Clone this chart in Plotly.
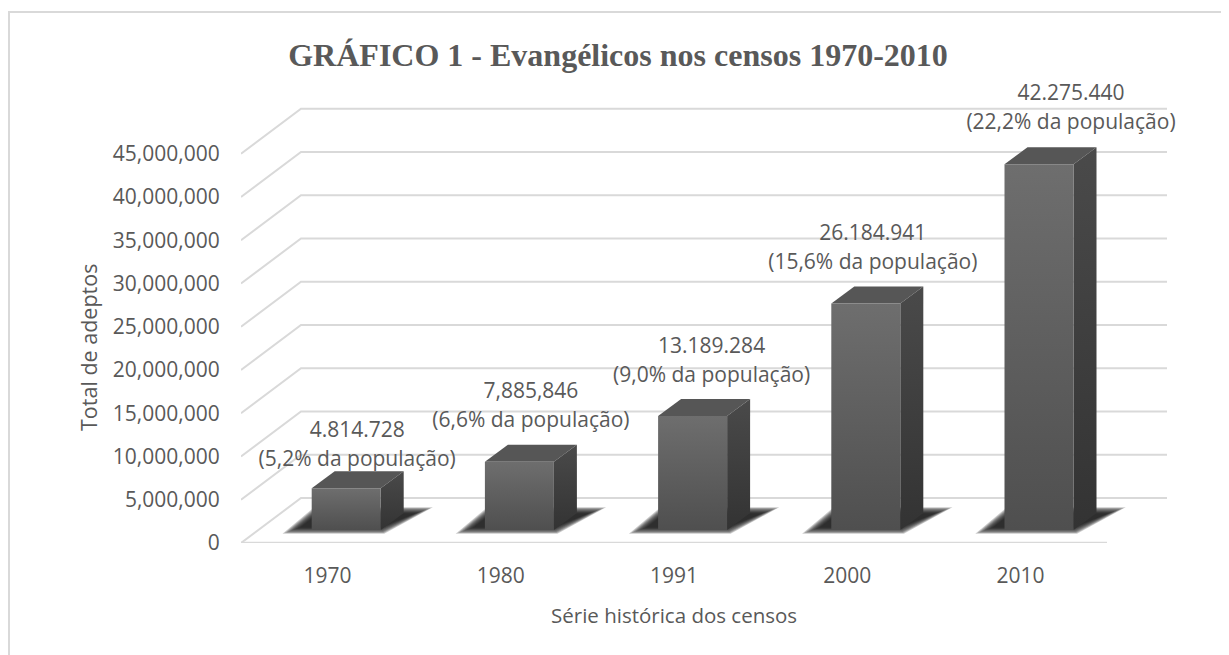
import plotly.graph_objects as go

categories = ["1970", "1980", "1991", "2000", "2010"]
values = [4814728, 7885846, 13189284, 26184941, 42275440]
count_labels = ["4.814.728", "7,885,846", "13.189.284", "26.184.941", "42.275.440"]
share_labels = ["(5,2% da população)", "(6,6% da população)", "(9,0% da população)",
                "(15,6% da população)", "(22,2% da população)"]
y_ticks = [0, 5000000, 10000000, 15000000, 20000000, 25000000, 30000000, 35000000, 40000000, 45000000]

# pixel geometry of the oblique projection (page pixels; the page body has an 8 px margin)
OFF = 8
CAT_PX = 173.2
VAL_PX = 8.65 / 1e6
PLOT_L, PLOT_R, PLOT_T, PLOT_B = 241, 1172, 85, 543
W, H = 1229 - OFF, 655 - OFF
x_min = -0.5
x_max = x_min + (PLOT_R - PLOT_L) / CAT_PX
y_max = (PLOT_B - PLOT_T) / VAL_PX
px = 1 / CAT_PX
py = 1 / VAL_PX

# label nudges, in pixels
label_dx = [11, 11.5, 19, 7, 32]
label_dy = [42, 55, 54, 54, 55]

GRID = "#d9d9d9"
TEXT = "#595959"
FONT = "Open Sans"

fig = go.Figure()


def poly(xs, ys, fillcolor=None, fillgradient=None):
    kw = dict(fillgradient=fillgradient) if fillgradient else dict(fillcolor=fillcolor)
    fig.add_trace(go.Scatter(x=xs + xs[:1], y=ys + ys[:1], mode="lines", fill="toself",
                             line=dict(width=0), hoverinfo="skip", showlegend=False, **kw))


# gridlines: front wall edge, slanted side wall, back wall
for t in y_ticks:
    fig.add_trace(go.Scatter(
        x=[x_min, x_min + 60 * px, x_min + (1167 - PLOT_L) * px],
        y=[t, t + 45 * py, t + 45 * py],
        mode="lines", line=dict(color=GRID, width=2), hoverinfo="skip", showlegend=False))
fig.add_trace(go.Scatter(x=[x_min, x_min + (1107 - PLOT_L) * px], y=[0, 0], mode="lines",
                         line=dict(color=GRID, width=2.5), hoverinfo="skip", showlegend=False))

bar_w = 69 * px
shift = 18.6 * px
base = 13 * py
dep_x = 23 * px
dep_y = 17 * py

# floor shadows: stacked translucent shapes give the soft edge
for i in range(len(values)):
    L = i + shift - bar_w / 2
    R = L + bar_w
    for inset in [-1, 0, 1, 2, 3, 4, 5, 6, 7]:
        xs = [L + (-27 + 2.2 * inset) * px, R + (3 - 0.5 * inset) * px,
              R + (50 - 2.2 * inset) * px, L + (3 + 0.5 * inset) * px]
        ys = [(10 + 0.8 * inset) * py, (10 + 0.8 * inset) * py,
              (35 - 0.8 * inset) * py, (35 - 0.8 * inset) * py]
        poly(xs, ys, fillcolor="rgba(25,25,25,0.22)")

# bars
for i, v in enumerate(values):
    L = i + shift - bar_w / 2
    R = L + bar_w
    top = base + v
    poly([L, R, R + dep_x, L + dep_x], [top, top, top + dep_y, top + dep_y], fillcolor="#565656")
    poly([R, R + dep_x, R + dep_x, R], [base, base + dep_y, top + dep_y, top],
         fillgradient=dict(type="vertical", colorscale=[[0, "#333333"], [1, "#4a4a4a"]]))
    poly([L, R, R, L], [base, base, top, top],
         fillgradient=dict(type="vertical", colorscale=[[0, "#4f4f4f"], [1, "#6e6e6e"]]))

# data labels (two separate lines, the original line gap is wider than one line height)
lx = [i + shift + d * px for i, d in enumerate(label_dx)]
fig.add_trace(go.Scatter(x=lx, y=[base + v + (d + 14.5) * py for v, d in zip(values, label_dy)],
                         mode="text", text=count_labels, textposition="middle center",
                         textfont=dict(family=FONT, size=21, color=TEXT),
                         hoverinfo="skip", showlegend=False, cliponaxis=False))
fig.add_trace(go.Scatter(x=lx, y=[base + v + (d - 14.5) * py for v, d in zip(values, label_dy)],
                         mode="text", text=share_labels, textposition="middle center",
                         textfont=dict(family=FONT, size=21, color=TEXT),
                         hoverinfo="skip", showlegend=False, cliponaxis=False))


def fx(p):
    return (p - PLOT_L) / (PLOT_R - PLOT_L)


def fy(p):
    return (PLOT_B - p) / (PLOT_B - PLOT_T)


border = dict(type="line", xref="paper", yref="paper", line=dict(color=GRID, width=2))

fig.update_layout(
    width=W, height=H, autosize=False,
    margin=dict(l=PLOT_L - OFF, r=W + OFF - PLOT_R, t=PLOT_T - OFF, b=H + OFF - PLOT_B),
    plot_bgcolor="white", paper_bgcolor="white",
    font=dict(family=FONT, color=TEXT, size=20),
    title=dict(text="<b>GRÁFICO 1 - Evangélicos nos censos 1970-2010</b>",
               font=dict(family="Liberation Serif", size=32, color=TEXT),
               x=(618 - OFF) / W, xanchor="center", y=1 - (55 - OFF) / H, yanchor="middle"),
    xaxis=dict(range=[x_min, x_max], tickmode="array", tickvals=list(range(5)), ticktext=categories,
               showgrid=False, zeroline=False, showline=False, ticks="outside", ticklen=14,
               tickcolor="rgba(0,0,0,0)", tickfont=dict(family=FONT, size=21, color=TEXT)),
    yaxis=dict(range=[0, y_max], tickmode="array", tickvals=y_ticks, tickformat=",",
               showgrid=False, zeroline=False, showline=False, ticks="outside", ticklen=16,
               tickcolor="rgba(0,0,0,0)", tickfont=dict(family=FONT, size=21, color=TEXT)),
    annotations=[
        dict(text="Série histórica dos censos", xref="paper", yref="paper",
             x=fx(674), y=fy(615), showarrow=False, xanchor="center", yanchor="middle",
             font=dict(family=FONT, size=20.5, color=TEXT)),
        dict(text="Total de adeptos", xref="paper", yref="paper", textangle=-90,
             x=fx(88), y=fy(348), showarrow=False, xanchor="center", yanchor="middle",
             font=dict(family=FONT, size=21.5, color=TEXT)),
    ],
    shapes=[
        dict(border, x0=fx(9), x1=fx(9), y0=fy(656), y1=fy(12)),
        dict(border, x0=fx(8), x1=fx(1229), y0=fy(12), y1=fy(12)),
    ],
)
fig.write_html("out.html")
